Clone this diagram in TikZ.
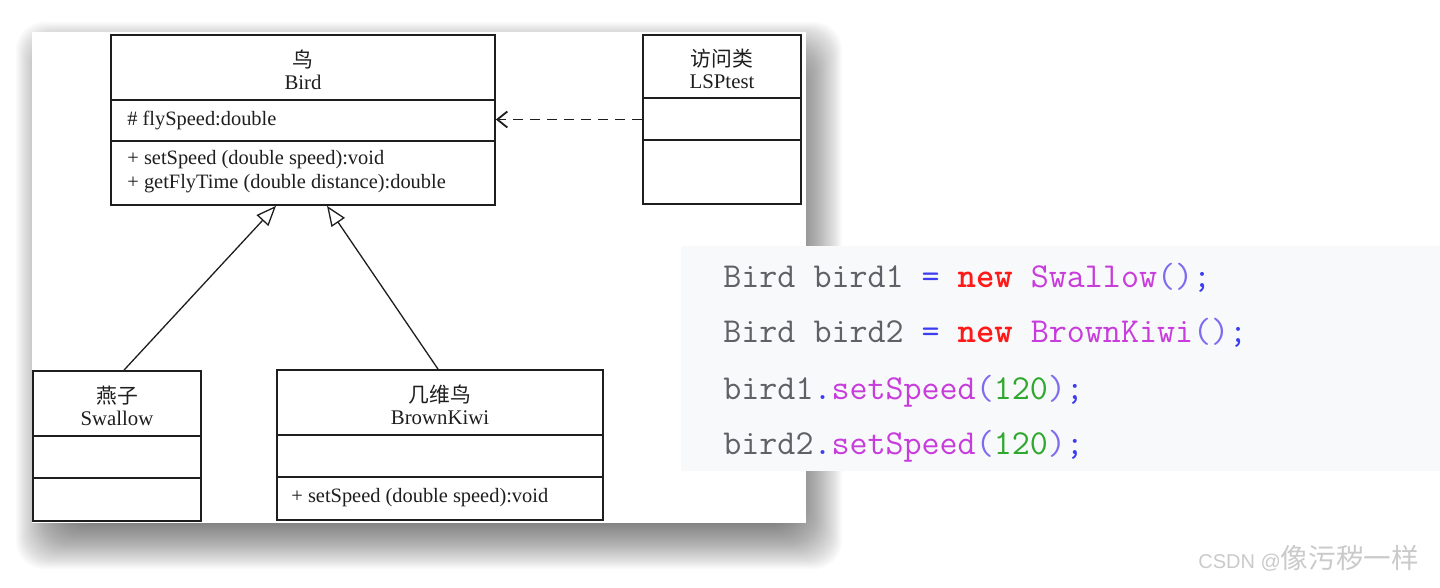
\documentclass[tikz,border=0pt]{standalone}
\usepackage{fontspec}
\setmainfont{Liberation Serif}
\setsansfont{Liberation Sans}
\newfontfamily\cjk{Noto Sans CJK SC}
\usetikzlibrary{arrows.meta,positioning,calc}
\definecolor{Ink}{HTML}{1E1E1E}
\definecolor{CodeBg}{HTML}{F8F9FA}
\definecolor{CodeGray}{HTML}{5E6266}
\definecolor{CodeBlue}{HTML}{3C3CF0}
\definecolor{CodeRed}{HTML}{FF1A1A}
\definecolor{CodePink}{HTML}{C83CDC}
\definecolor{CodeParen}{HTML}{7C6CF0}
\definecolor{CodeNum}{HTML}{2EA82E}
\definecolor{Mark}{HTML}{CACACA}

\begin{document}
\begin{tikzpicture}[x=0.5pt,y=-0.5pt,
  classbox/.style={draw=Ink,line width=0.9pt,inner sep=0pt,fill=white},
  classline/.style={draw=Ink,line width=0.9pt},
  head/.style={align=center,inner sep=0pt,text=Ink,font=\fontsize{10.4}{11}\selectfont},
  member/.style={anchor=west,inner sep=0pt,text=Ink,font=\fontsize{10.2}{12}\selectfont},
  code/.style={anchor=base west,inner sep=0pt,text=CodeGray,font=\ttfamily\fontsize{17.5}{20}\selectfont},
  inherit/.style={draw=Ink,line width=0.65pt,-{Triangle[open,length=10pt,width=8pt]}},
  uses/.style={draw=Ink,line width=0.9pt,dash pattern=on 5pt off 3.5pt,-{Straight Barb[length=5pt,width=8pt]}}]
\useasboundingbox (0,0) rectangle (1440,588);
\foreach \i in {0,...,39} \fill[black,opacity=0.018,rounded corners=14pt] (16+1.4*\i,22+1.4*\i) rectangle (842-1.4*\i,569-1.4*\i);
\fill[white] (32,32) rectangle (806,523);
\fill[CodeBg] (681,246) rectangle (1440,471);
\node[classbox,minimum width=192pt,minimum height=85pt] (bird) at (303,120) {};
\node[classbox,minimum width=79pt,minimum height=84.5pt] (lsp) at (722,119.5) {};
\node[classbox,minimum width=84pt,minimum height=75pt] (swallow) at (117,446) {};
\node[classbox,minimum width=163pt,minimum height=75pt] (kiwi) at (440,445) {};
\foreach \n/\a/\b in {bird/100/141,lsp/98/140,swallow/436/478,kiwi/435/477} \draw[classline] (\n.west |- 0,\a) -- (\n.east |- 0,\a) (\n.west |- 0,\b) -- (\n.east |- 0,\b);
\node[head] (birdhead) at (303,70) {{\cjk 鸟}\\Bird};
\node[head] (lsphead) at (722,69) {{\cjk 访问类}\\LSPtest};
\node[head] (swallowhead) at (117,406) {{\cjk 燕子}\\Swallow};
\node[head] (kiwihead) at (440,405) {{\cjk 几维鸟}\\BrownKiwi};
\node[member] (birdattr) at (127,121) {\# flySpeed:double};
\node[member] (birdop1) at (127,160) {+ setSpeed (double speed):void};
\node[member] (birdop2) at (127,184) {+ getFlyTime (double distance):double};
\node[member] (kiwiop) at (291,498) {+ setSpeed (double speed):void};
\draw[uses] (lsp.west) -- (lsp.west -| bird.east);
\draw[inherit] ([xshift=3.5pt]swallow.north) -- ([xshift=-13.5pt]bird.south);
\draw[inherit] ([xshift=-1pt]kiwi.north) -- ([xshift=12pt]bird.south);
\node[code] (line1) at (723,287) {Bird bird1 \textcolor{CodeBlue}{=} \textcolor{CodeRed}{\bfseries new} \textcolor{CodePink}{Swallow}\textcolor{CodeParen}{()}\textcolor{CodeBlue}{;}};
\node[code] (line2) at (723,343) {Bird bird2 \textcolor{CodeBlue}{=} \textcolor{CodeRed}{\bfseries new} \textcolor{CodePink}{BrownKiwi}\textcolor{CodeParen}{()}\textcolor{CodeBlue}{;}};
\node[code] (line3) at (723,399) {bird1\textcolor{CodeBlue}{.}\textcolor{CodePink}{setSpeed}\textcolor{CodeParen}{(}\textcolor{CodeNum}{120}\textcolor{CodeParen}{)}\textcolor{CodeBlue}{;}};
\node[code] (line4) at (723,454) {bird2\textcolor{CodeBlue}{.}\textcolor{CodePink}{setSpeed}\textcolor{CodeParen}{(}\textcolor{CodeNum}{120}\textcolor{CodeParen}{)}\textcolor{CodeBlue}{;}};
\node[anchor=base west,inner sep=0pt,text=Mark,font=\sffamily\fontsize{10}{12}\selectfont] (mark) at (1198,568) {CSDN @{\cjk\fontsize{13.8}{14}\selectfont 像污秽一样}};
\end{tikzpicture}
\end{document}
